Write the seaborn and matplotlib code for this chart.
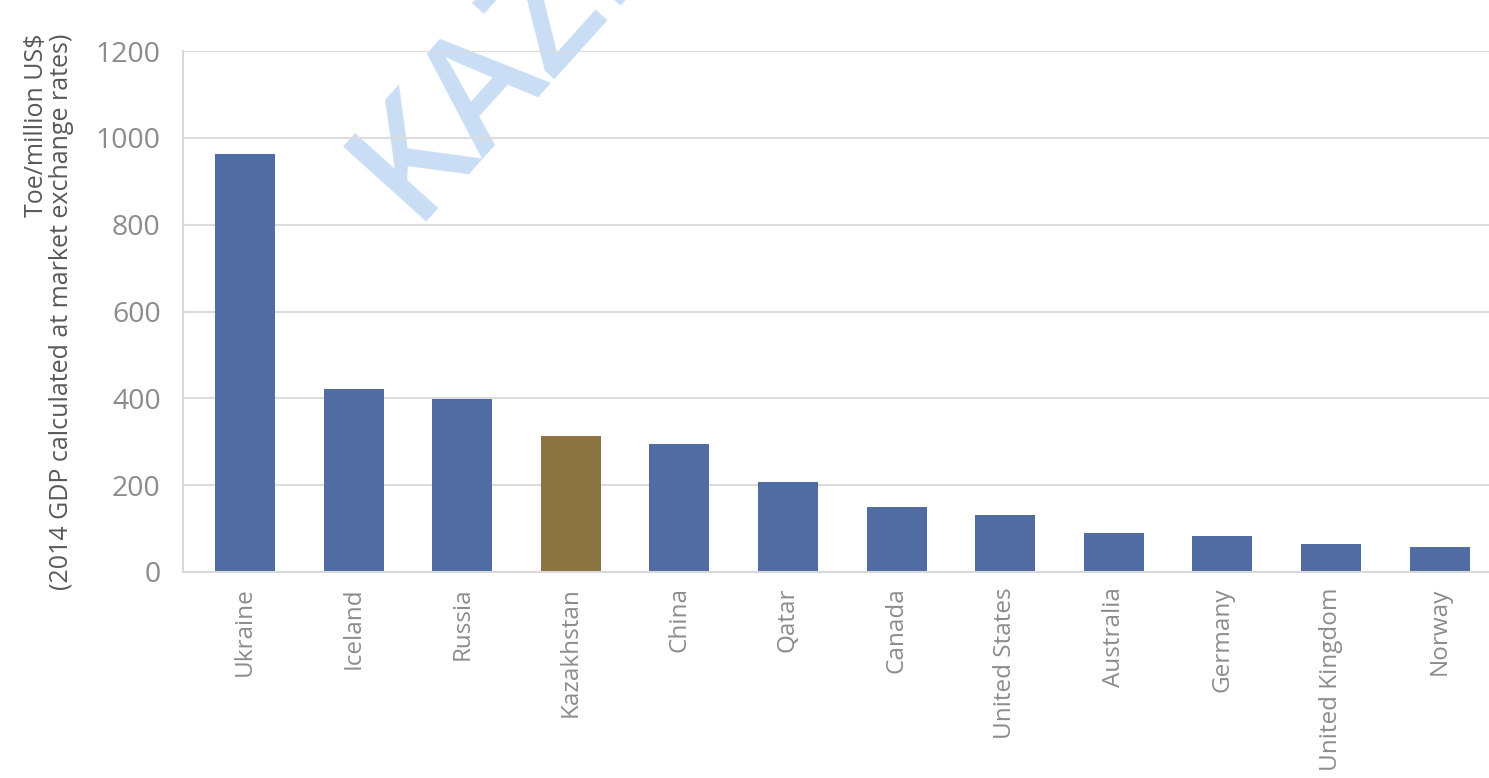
import matplotlib
matplotlib.use("Agg")
import matplotlib.pyplot as plt
import seaborn as sns
import pandas as pd
import numpy as np

countries = ["Ukraine", "Iceland", "Russia", "Kazakhstan", "China", "Qatar",
             "Canada", "United States", "Australia", "Germany", "United Kingdom", "Norway"]
values = [963, 421, 398, 313, 295, 207, 150, 131, 90, 83, 64, 58]
highlight = "Kazakhstan"
yticks = [0, 200, 400, 600, 800, 1000, 1200]

blue = "#516ba3"
gold = "#8b7441"
palette = {c: (gold if c == highlight else blue) for c in countries}

df = pd.DataFrame({"country": countries, "value": values})

sns.set_style("white")
plt.rcParams["font.family"] = ["Open Sans", "DejaVu Sans"]

fig = plt.figure(figsize=(14.89, 7.78), dpi=100)
ax = fig.add_axes([183/1489, 1 - 572/778, (1489-183)/1489, (572-51)/778])

# watermark (behind everything)
fig.text(412/1489, 1 - 222/778, "KAZENERGY", rotation=48, fontsize=112,
         color="#c9def5", fontweight="semibold", ha="left", va="baseline",
         rotation_mode="anchor", zorder=-10)
ax.patch.set_alpha(0)

sns.barplot(data=df, x="country", y="value", hue="country", palette=palette,
            order=countries, hue_order=countries, width=0.553, legend=False,
            ax=ax, saturation=1, edgecolor="none")

ax.set_xlim(-0.571, 11.455)
ax.set_ylim(0, 1200)
ax.set_yticks(yticks)
ax.set_yticklabels([str(v) for v in yticks])
ax.yaxis.grid(True, color="#dcdcdc", linewidth=1.5)
ax.set_axisbelow(True)

for s in ["top", "right"]:
    ax.spines[s].set_visible(False)
for s in ["left", "bottom"]:
    ax.spines[s].set_color("#d9d9d9")
    ax.spines[s].set_linewidth(1.5)

ax.set_xticks(np.arange(len(countries)))
ax.set_xticklabels(countries, rotation=90, fontsize=17.5, color="#8c8c8c")
ax.set_xticks(np.arange(0.47, len(countries) - 0.5, 1.005), minor=True)
ax.tick_params(axis="x", which="major", length=0, pad=11)
ax.tick_params(axis="x", which="minor", length=8, width=1.5, color="#d9d9d9", direction="out")
ax.tick_params(axis="y", length=8, width=1.5, color="#d9d9d9", labelsize=20.5,
               labelcolor="#8c8c8c", pad=8)
ax.set_xlabel("")
ax.set_ylabel("Toe/million US$\n(2014 GDP calculated at market exchange rates)",
              fontsize=18, color="#595959", linespacing=1.0, labelpad=16,
              multialignment="right")

fig.savefig("out.png", dpi=100)
